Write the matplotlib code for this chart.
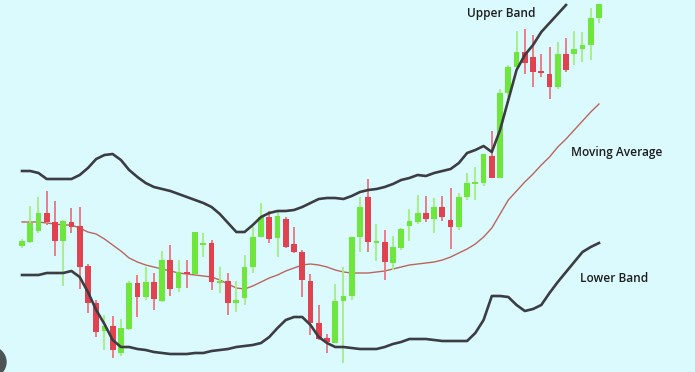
import numpy as np
import matplotlib.pyplot as plt
from matplotlib.patches import Ellipse

# candle data (arbitrary price units)
opens = [154, 158, 169, 187, 178, 159, 178, 174, 134, 97, 69, 74, 47, 71, 117, 103,
         118, 99, 140, 112, 128, 126, 155, 157, 117, 119, 97, 102, 133, 163, 183, 162,
         181, 156, 148, 119, 77, 62, 57, 99, 104, 163, 203, 157, 158, 137, 152, 174,
         178, 187, 181, 193, 180, 173, 203, 216, 217, 244, 222, 307, 333, 348, 343, 329,
         326, 313, 346, 346, 351, 355, 382]
highs = [161, 194, 203, 209, 199, 180, 192, 193, 136, 100, 85, 84, 81, 119, 125, 133,
         127, 149, 155, 140, 140, 168, 167, 160, 133, 127, 119, 145, 173, 197, 189, 188,
         183, 173, 150, 126, 95, 66, 116, 133, 163, 203, 221, 176, 170, 164, 172, 191,
         205, 204, 202, 204, 212, 207, 227, 233, 246, 269, 311, 335, 369, 371, 365, 346,
         353, 358, 362, 369, 368, 392, 396]
lows = [152, 157, 167, 175, 144, 114, 167, 111, 87, 63, 50, 42, 44, 70, 83, 100,
        90, 98, 104, 108, 112, 126, 143, 110, 107, 85, 88, 95, 127, 163, 157, 143,
        152, 147, 103, 65, 60, 47, 57, 37, 100, 148, 148, 139, 120, 130, 150, 159,
        176, 178, 167, 179, 151, 170, 200, 200, 214, 222, 222, 303, 330, 326, 313, 323,
        301, 311, 328, 335, 338, 340, 377]
closes = [159, 177, 187, 178, 159, 179, 173, 133, 97, 68, 74, 50, 72, 117, 103, 118,
          101, 140, 111, 128, 126, 168, 157, 118, 119, 97, 100, 133, 163, 183, 161, 184,
          153, 148, 120, 77, 61, 58, 99, 104, 163, 193, 158, 159, 138, 153, 171, 179,
          187, 181, 193, 183, 173, 203, 217, 218, 246, 222, 307, 333, 348, 337, 328, 327,
          313, 346, 330, 351, 355, 382, 396]

upper_band = [229, 229, 227, 221, 221, 221, 221, 225, 232, 241, 245, 246, 240, 230, 223, 217,
              213, 211, 209, 206, 203, 200, 197, 193, 186, 177, 168, 168, 175, 183, 187, 189,
              189, 190, 193, 197, 201, 202, 202, 201, 204, 208, 210, 211, 213, 216, 220, 222,
              225, 224, 227, 229, 231, 237, 247, 250, 254, 248, 270, 300, 330, 345, 355, 368,
              377, 386, 395]
moving_avg = [178, 178, 178, 177, 176, 175, 175, 172, 168, 166, 161, 155, 149, 142, 138, 135,
              133, 131, 129, 127, 126, 125, 124, 123, 120, 116, 112, 111, 114, 118, 122, 125,
              129, 132, 135, 136, 135, 133, 130, 128, 127, 127, 127, 128, 129, 131, 133, 135,
              136, 137, 138, 140, 143, 147, 151, 156, 163, 172, 186, 200, 209, 218, 226, 235,
              243, 253, 261, 270, 279, 288, 296]
lower_band = [125, 125, 125, 127, 127, 127, 129, 123, 108, 90, 76, 60, 53, 53, 51, 50,
              48, 47, 46, 46, 46, 47, 47, 49, 50, 51, 53, 54, 55, 57, 63, 72,
              80, 83, 83, 75, 63, 57, 53, 53, 52, 51, 51, 51, 53, 56, 58, 61,
              61, 61, 60, 59, 59, 59, 59, 67, 80, 104, 104, 103, 95, 89, 91, 95,
              107, 118, 128, 138, 148, 153, 157]

BG = "#dbfafd"
GREEN = "#6fe63c"
GREEN_WICK = "#a4ef80"
RED = "#e2424f"
RED_WICK = "#ea7580"
BAND = "#3c3c43"
MA = "#bb655d"

fig = plt.figure(figsize=(6.95, 3.72), dpi=100)
fig.patch.set_facecolor(BG)
ax = fig.add_axes([0, 0, 1, 1])
ax.set_facecolor(BG)

o = np.array(opens, dtype=float)
c = np.array(closes, dtype=float)
h = np.array(highs, dtype=float)
l = np.array(lows, dtype=float)
idx = np.arange(len(o))
up = c >= o

# moving average sits behind the candles
ax.plot(np.arange(len(moving_avg)), moving_avg, color=MA, lw=1.0, zorder=1)

# wicks
ax.vlines(idx[up], l[up], h[up], color=GREEN_WICK, lw=1.3, zorder=2)
ax.vlines(idx[~up], l[~up], h[~up], color=RED_WICK, lw=1.3, zorder=2)

# bodies
body_bottom = np.minimum(o, c)
body_height = np.maximum(np.abs(c - o), 2.0)
ax.bar(idx[up], body_height[up], bottom=body_bottom[up], width=0.7,
       color=GREEN, lw=0, zorder=3)
ax.bar(idx[~up], body_height[~up], bottom=body_bottom[~up], width=0.7,
       color=RED, lw=0, zorder=3)

# bands on top
ax.plot(np.arange(len(upper_band)), upper_band, color=BAND, lw=1.9,
        solid_joinstyle="round", zorder=4)
ax.plot(np.arange(len(lower_band)), lower_band, color=BAND, lw=1.9,
        solid_joinstyle="round", zorder=4)

ax.set_xlim(-2.67, 81.65)
ax.set_ylim(28, 400)
ax.axis("off")

font = dict(family=["Open Sans", "DejaVu Sans"], fontsize=8.6, fontweight="semibold",
            color="#1e1e1e", transform=ax.transAxes, va="center", ha="left")
ax.text(467 / 695, 1 - 14 / 372, "Upper Band", **font)
ax.text(571 / 695, 1 - 152 / 372, "Moving Average", **font)
ax.text(580 / 695, 1 - 279 / 372, "Lower Band", **font)

# round button fragment in the bottom-left corner
ax.add_patch(Ellipse((-9 / 695, 1 - 362 / 372), 30 / 695, 30 / 372, transform=ax.transAxes,
                     color="#4d5454", zorder=5, clip_on=False))

fig.savefig("out.png", dpi=100, facecolor=BG)
